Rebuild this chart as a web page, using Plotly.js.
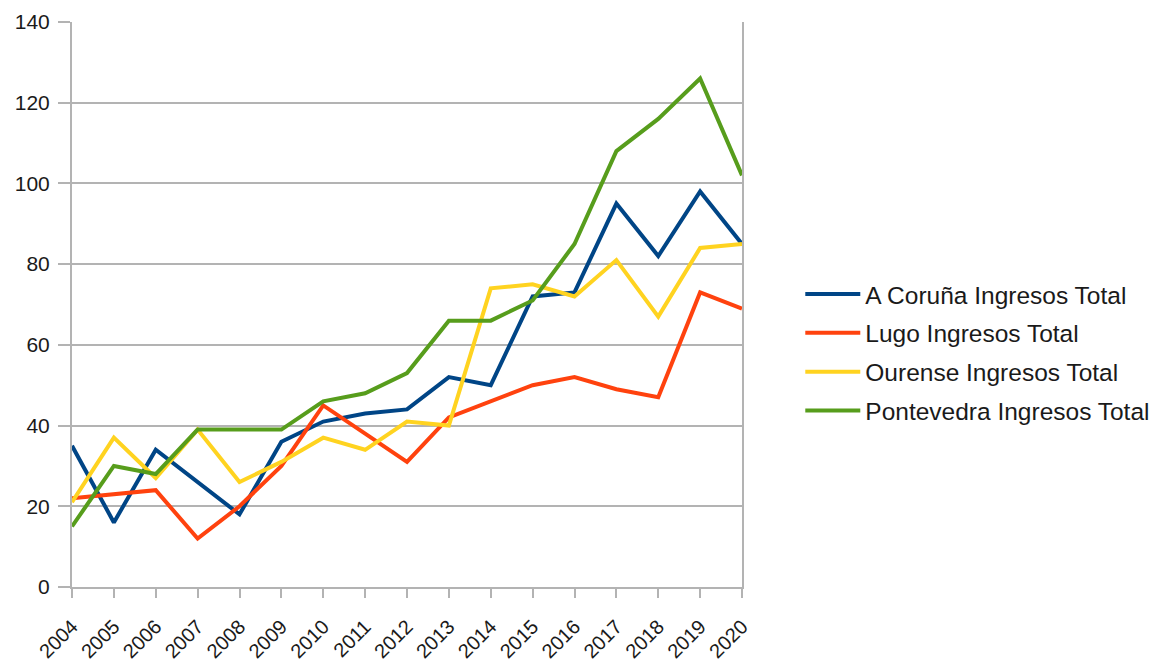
<!DOCTYPE html>
<html>
<head>
<meta charset="utf-8">
<script src="https://cdn.plot.ly/plotly-3.0.1.min.js"></script>
<style>html,body{margin:0;padding:0;background:#fff;}#chart{width:1173px;height:666px;}</style>
</head>
<body>
<div id="chart"></div>
<script>
const years = [2004,2005,2006,2007,2008,2009,2010,2011,2012,2013,2014,2015,2016,2017,2018,2019,2020];
const coruna = [35,16,34,26,18,36,41,43,44,52,50,72,73,95,82,98,85];
const lugo = [22,23,24,12,20,30,45,38,31,42,46,50,52,49,47,73,69];
const ourense = [21,37,27,39,26,31,37,34,41,40,74,75,72,81,67,84,85];
const pontevedra = [15,30,28,39,39,39,46,48,53,66,66,71,85,108,116,126,102];
const seriesNames = ["A Coruña Ingresos Total","Lugo Ingresos Total","Ourense Ingresos Total","Pontevedra Ingresos Total"];
const colors = ["#004586","#ff420e","#ffd320","#579d1c"];
const yTicks = [0,20,40,60,80,100,120,140];

const allSeries = [coruna, lugo, ourense, pontevedra];
const traces = allSeries.map((vals,i)=>({
  x: years, y: vals, type:'scatter', mode:'lines', name: seriesNames[i],
  legendgroup: 'g'+i,
  line:{color:colors[i], width:4}
}));

const layout = {
  width:1173, height:666,
  margin:{l:72, r:431, t:22, b:79, autoexpand:false},
  paper_bgcolor:'#fff', plot_bgcolor:'#fff',
  font:{family:'Liberation Sans, Arial, sans-serif', color:'#1a1a1a'},
  showlegend:true,
  legend:{x:1.087, xanchor:'left', y:0.415, yanchor:'middle', font:{size:24.5, color:'#1a1a1a'},
          itemwidth:55, tracegroupgap:4, traceorder:'grouped', bgcolor:'rgba(0,0,0,0)'},
  xaxis:{
    range:[2004,2020], tickmode:'array', tickvals:years, ticktext:years.map(String),
    tickangle:-45, tickfont:{size:20, color:'#1a1a1a'}, ticklabelstandoff:9,
    showgrid:false, zeroline:false, showline:true, linecolor:'#b3b3b3', linewidth:2,
    ticks:'outside', ticklen:9, tickcolor:'#b3b3b3', tickwidth:2
  },
  yaxis:{
    range:[0,140], tickmode:'array', tickvals:yTicks,
    tickfont:{size:21, color:'#1a1a1a'}, ticklabelstandoff:4,
    showgrid:true, gridcolor:'#b3b3b3', gridwidth:2, zeroline:false,
    showline:true, linecolor:'#b3b3b3', linewidth:2, mirror:true,
    ticks:'outside', ticklen:12, tickcolor:'#b3b3b3', tickwidth:2
  }
};
Plotly.newPlot('chart', traces, layout, {displayModeBar:false, staticPlot:true});
</script>
</body>
</html>
